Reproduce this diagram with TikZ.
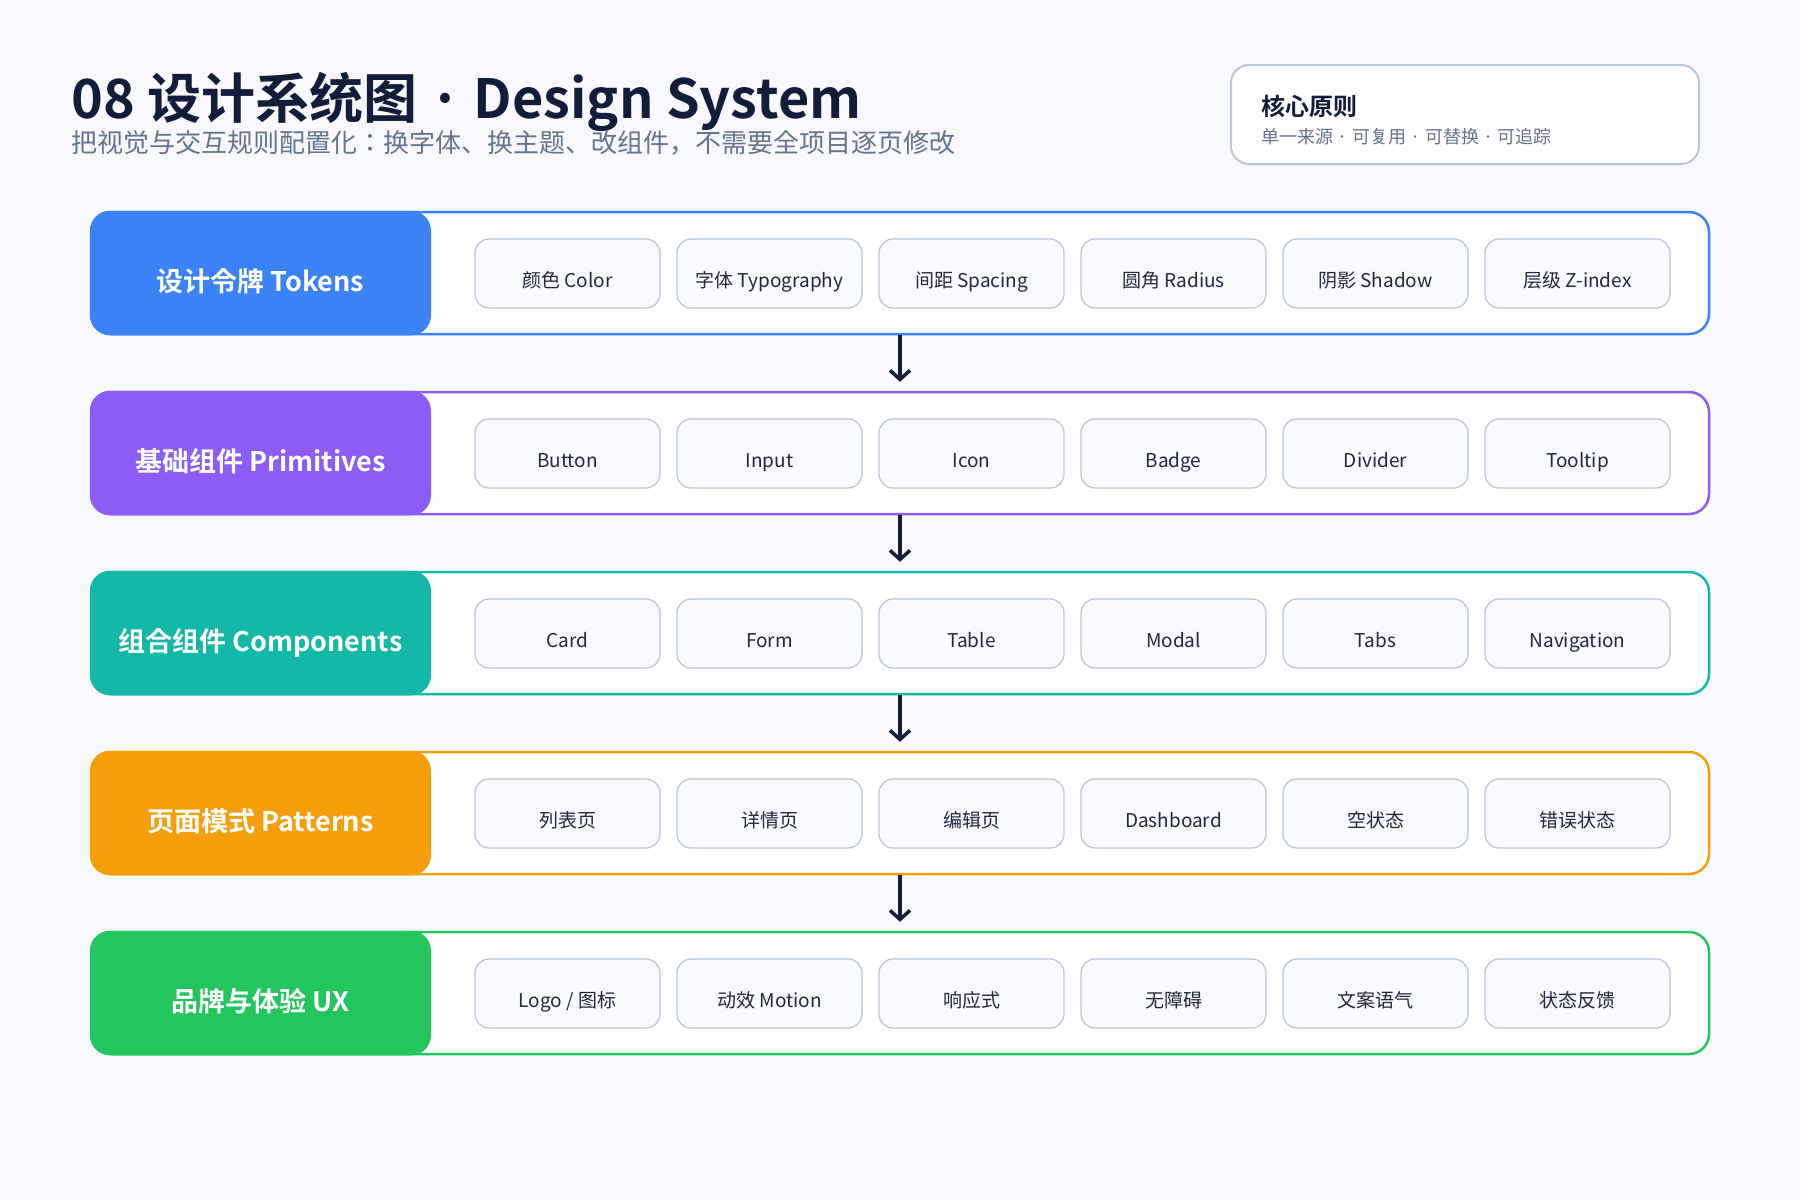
\documentclass[tikz,border=0pt]{standalone}
\usepackage{fontspec}
\setmainfont{Noto Sans CJK JP}[BoldFont={Noto Sans CJK JP Bold}]
\usetikzlibrary{arrows.meta}
\definecolor{bg}{HTML}{F7F9FD}
\definecolor{navy}{HTML}{111D3A}
\definecolor{slate}{HTML}{64748B}
\definecolor{chipline}{HTML}{BAC6DC}
\definecolor{chipfill}{HTML}{F8FAFD}
\definecolor{chiptext}{HTML}{1E293B}
\definecolor{cblue}{HTML}{3B82F6}
\definecolor{cpurple}{HTML}{8B5CF6}
\definecolor{cteal}{HTML}{14B8A6}
\definecolor{camber}{HTML}{F59E0B}
\definecolor{cgreen}{HTML}{22C55E}
\newcommand{\middot}{\makebox[1.05em][c]{·}}
\tikzset{
  rowbox/.style={fill=white, line width=2.5pt, rounded corners=20pt, minimum width=1618pt, minimum height=122pt, inner sep=0pt},
  labelbox/.style={rounded corners=20pt, minimum width=341pt, minimum height=124.5pt, inner sep=0pt, text=white,
    font=\bfseries\fontsize{27}{33}\selectfont, text height=36pt, text depth=0pt},
  chip/.style={draw=chipline, fill=chipfill, line width=1.3pt, rounded corners=14pt, minimum width=185pt, minimum height=69pt,
    inner sep=0pt, text=chiptext, font=\fontsize{19}{23}\selectfont, text height=28pt, text depth=0pt},
  corebox/.style={draw=chipline, fill=white, line width=2pt, rounded corners=18pt, minimum width=468pt, minimum height=99pt, inner sep=0pt},
  arr/.style={draw=navy, line width=3.5pt, -{Straight Barb[length=9pt,width=20pt]}},
  txt/.style={anchor=base west, inner sep=0pt}
}
\begin{document}
\begin{tikzpicture}[x=1pt,y=-1pt]
\fill[bg] (0,0) rectangle (1800,1200);
\useasboundingbox (0,0) rectangle (1800,1200);
% title
\node[txt, text=navy, font=\bfseries\fontsize{54}{60}\selectfont] (title) at (71,118) {08 设计系统图\middot Design System};
\node[txt, text=slate, font=\fontsize{26}{30}\selectfont] (subtitle) at (71,152) {把视觉与交互规则配置化：换字体、换主题、改组件，不需要全项目逐页修改};
% core principle
\node[corebox] (core) at (1465,114.5) {};
\node[txt, text=navy, font=\bfseries\fontsize{24}{28}\selectfont] (coretitle) at (1261,115) {核心原则};
\node[txt, text=slate, font=\fontsize{18}{22}\selectfont] (coresub) at (1261,143) {单一来源\middot 可复用\middot 可替换\middot 可追踪};
% rows
\foreach \n/\t/\col/\lab/\items in {
  1/211/cblue/{设计令牌 Tokens}/{颜色 Color,字体 Typography,间距 Spacing,圆角 Radius,阴影 Shadow,层级 Z-index},
  2/391/cpurple/{基础组件 Primitives}/{Button,Input,Icon,Badge,Divider,Tooltip},
  3/571/cteal/{组合组件 Components}/{Card,Form,Table,Modal,Tabs,Navigation},
  4/751/camber/{页面模式 Patterns}/{列表页,详情页,编辑页,Dashboard,空状态,错误状态},
  5/931/cgreen/{品牌与体验 UX}/{Logo / 图标,动效 Motion,响应式,无障碍,文案语气,状态反馈}}
{
  \node[rowbox, draw=\col] (r\n) at (900,\t+62) {};
  \node[labelbox, fill=\col] (l\n) at (260.5,\t+62) {\lab};
  \foreach \tx [count=\i] in \items {
    \node[chip] (c\n\i) at (567.5+202*\i-202,\t+62.5) {\tx};
  }
}
\foreach \a/\b in {1/2,2/3,3/4,4/5}
  \draw[arr] (r\a.south) -- ([yshift=9pt]r\b.north);
\end{tikzpicture}
\end{document}
